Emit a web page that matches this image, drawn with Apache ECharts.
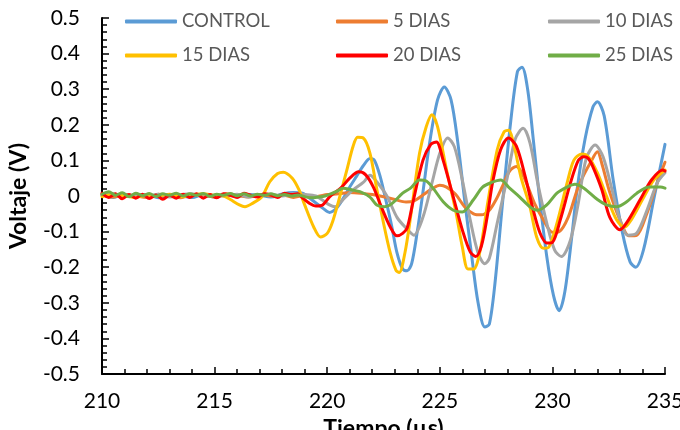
<!DOCTYPE html>
<html>
<head>
<meta charset="utf-8">
<script src="https://cdn.jsdelivr.net/npm/echarts@6/dist/echarts.min.js"></script>
<style>
html,body{margin:0;padding:0;background:#fff;}
#chart{width:680px;height:430px;}
</style>
</head>
<body>
<div id="chart"></div>
<script>
// Series names
const seriesNames = ['CONTROL', '5 DIAS', '10 DIAS', '15 DIAS', '20 DIAS', '25 DIAS'];

// Tick labels / axis ranges
const xTicks = [210, 215, 220, 225, 230, 235];
const yTicks = [-0.5, -0.4, -0.3, -0.2, -0.1, 0, 0.1, 0.2, 0.3, 0.4, 0.5];

// [tiempo (µs), voltaje (V)]
const control = [[210,0.003],[210.5,-0.004],[211,0.005],[211.5,-0.002],[212,0.004],[212.5,-0.005],[213,0.003],[213.5,0.000],[214,-0.004],[214.5,0.004],[215,-0.003],[215.5,0.003],[216,-0.002],[216.5,0.004],[217,0.002],[217.5,-0.003],[218,0.006],[218.5,0.010],[218.9,0.008],[219.3,-0.010],[219.8,-0.034],[220.1,-0.046],[220.4,-0.035],[220.7,-0.008],[221.0,0.025],[221.3,0.055],[221.6,0.085],[221.9,0.105],[222.1,0.10],[222.35,0.055],[222.6,-0.01],[222.85,-0.08],[223.1,-0.16],[223.35,-0.205],[223.55,-0.21],[223.75,-0.19],[224.0,-0.10],[224.25,0.01],[224.55,0.15],[224.9,0.27],[225.2,0.306],[225.5,0.27],[225.8,0.15],[226.1,-0.01],[226.4,-0.16],[226.7,-0.30],[227.0,-0.368],[227.2,-0.36],[227.45,-0.245],[227.8,-0.01],[228.15,0.21],[228.45,0.35],[228.65,0.362],[228.9,0.30],[229.15,0.16],[229.4,0.01],[229.75,-0.17],[230.05,-0.28],[230.3,-0.322],[230.55,-0.27],[230.85,-0.12],[231.1,0.02],[231.45,0.16],[231.8,0.25],[232.0,0.265],[232.3,0.225],[232.7,0.045],[233.1,-0.10],[233.45,-0.185],[233.7,-0.20],[234.05,-0.15],[234.5,-0.01],[235,0.145]];

const dias5 = [[210,0.005],[210.5,-0.003],[211,0.004],[211.5,0.0],[212,-0.004],[212.5,0.005],[213,0.001],[213.5,-0.005],[214,0.004],[214.5,0.002],[215,-0.003],[215.5,0.006],[216,0.002],[216.5,-0.003],[217,0.004],[217.5,0.000],[218,0.003],[218.5,-0.004],[219,0.002],[219.5,-0.002],[220,0.004],[220.5,0.006],[221,0.010],[221.5,0.008],[222,0.004],[222.5,-0.002],[223,-0.010],[223.5,-0.017],[223.9,-0.012],[224.3,0.005],[224.7,0.022],[225.0,0.03],[225.3,0.025],[225.7,0.005],[226.1,-0.03],[226.5,-0.05],[226.85,-0.053],[227.2,-0.04],[227.5,-0.01],[227.8,0.03],[228.1,0.07],[228.4,0.083],[228.6,0.07],[228.85,0.036],[229.2,-0.02],[229.6,-0.067],[230.0,-0.102],[230.3,-0.10],[230.7,-0.06],[231.1,0.017],[231.4,0.06],[231.7,0.095],[232.0,0.124],[232.2,0.09],[232.55,0.01],[233.0,-0.067],[233.4,-0.112],[233.75,-0.11],[234.2,-0.048],[234.65,0.036],[235,0.095]];

const dias10 = [[210,0.002],[210.5,0.006],[211,-0.002],[211.5,0.004],[212,0.000],[212.5,0.005],[213,-0.003],[213.5,0.003],[214,0.006],[214.5,-0.002],[215,0.003],[215.5,0.000],[216,0.005],[216.5,-0.003],[217,0.002],[217.5,0.005],[218,0.000],[218.5,0.006],[219,0.004],[219.5,0.000],[219.8,-0.012],[220.1,-0.025],[220.35,-0.03],[220.7,-0.01],[221.15,0.017],[221.6,0.038],[221.9,0.058],[222.2,0.04],[222.65,0.0],[223.1,-0.06],[223.5,-0.09],[223.85,-0.11],[224.25,-0.06],[224.65,0.036],[225.0,0.12],[225.35,0.163],[225.65,0.138],[226.0,0.045],[226.35,-0.067],[226.7,-0.16],[227.0,-0.19],[227.2,-0.175],[227.55,-0.076],[228.0,0.053],[228.35,0.16],[228.7,0.19],[229.0,0.15],[229.35,0.036],[229.75,-0.076],[230.1,-0.152],[230.4,-0.17],[230.8,-0.124],[231.15,-0.02],[231.5,0.105],[231.9,0.143],[232.25,0.11],[232.65,0.017],[233.0,-0.067],[233.35,-0.11],[233.75,-0.104],[234.2,-0.04],[234.65,0.036],[235,0.065]];

const dias15 = [[210,-0.002],[210.5,0.004],[211,0.001],[211.5,-0.004],[212,0.003],[212.5,0.000],[213,0.005],[213.5,-0.002],[214,0.003],[214.5,0.006],[215,0.002],[215.4,0.000],[215.7,-0.010],[216.1,-0.025],[216.35,-0.03],[216.7,-0.02],[217.1,-0.002],[217.45,0.04],[217.8,0.063],[218.05,0.067],[218.45,0.05],[218.75,0.017],[219.0,-0.025],[219.4,-0.087],[219.7,-0.115],[220.0,-0.105],[220.25,-0.07],[220.6,0.008],[220.9,0.08],[221.15,0.14],[221.35,0.165],[221.6,0.163],[221.9,0.12],[222.2,0.02],[222.5,-0.076],[222.8,-0.16],[223.05,-0.208],[223.2,-0.215],[223.45,-0.16],[223.7,-0.06],[224.1,0.12],[224.4,0.195],[224.65,0.228],[224.9,0.195],[225.3,0.073],[225.7,-0.04],[226.0,-0.143],[226.25,-0.205],[226.5,-0.205],[226.8,-0.15],[227.1,-0.03],[227.55,0.13],[227.85,0.18],[228.05,0.185],[228.3,0.14],[228.6,0.054],[229.0,-0.03],[229.3,-0.115],[229.6,-0.147],[229.85,-0.143],[230.2,-0.077],[230.65,0.036],[230.95,0.1],[231.3,0.118],[231.6,0.11],[232.0,0.065],[232.4,0.0],[232.85,-0.067],[233.2,-0.088],[233.5,-0.067],[234.0,-0.01],[234.5,0.045],[235,0.073]];

const dias20 = [[210,0.008],[210.3,-0.004],[210.6,0.006],[210.9,-0.008],[211.2,0.004],[211.5,-0.006],[211.8,0.005],[212.1,-0.007],[212.4,0.003],[212.7,-0.009],[213,0.002],[213.3,-0.006],[213.6,0.005],[213.9,-0.004],[214.2,0.006],[214.5,-0.006],[214.8,0.004],[215.1,-0.005],[215.4,0.006],[215.7,0.002],[216,-0.004],[216.3,0.008],[216.6,0.002],[216.9,-0.003],[217.2,0.006],[217.5,0.003],[217.8,-0.004],[218.1,0.008],[218.4,0.004],[218.7,0.006],[218.9,-0.005],[219.2,-0.02],[219.5,-0.028],[219.8,-0.025],[220.1,-0.003],[220.3,0.008],[220.6,0.022],[221.0,0.05],[221.4,0.068],[221.7,0.06],[222.05,0.025],[222.4,-0.03],[222.8,-0.087],[223.1,-0.112],[223.35,-0.105],[223.55,-0.09],[223.8,-0.02],[224.25,0.1],[224.6,0.145],[224.85,0.152],[225.15,0.1],[225.6,-0.003],[226.0,-0.095],[226.35,-0.157],[226.6,-0.17],[226.85,-0.14],[227.1,-0.06],[227.35,0.04],[227.7,0.13],[228.05,0.163],[228.4,0.14],[228.8,0.053],[229.15,-0.04],[229.45,-0.104],[229.75,-0.132],[230.0,-0.13],[230.35,-0.067],[230.8,0.036],[231.15,0.1],[231.4,0.11],[231.6,0.105],[231.8,0.082],[232.2,0.017],[232.55,-0.06],[233.0,-0.095],[233.3,-0.075],[233.9,-0.01],[234.4,0.045],[234.9,0.073],[235,0.07]];

const dias25 = [[210,0.005],[210.3,0.012],[210.6,0.002],[210.9,0.009],[211.2,-0.002],[211.5,0.008],[211.8,0.001],[212.1,0.007],[212.4,-0.001],[212.7,0.006],[213,0.002],[213.3,0.008],[213.6,0.000],[213.9,0.006],[214.2,0.002],[214.5,0.007],[214.8,-0.001],[215.1,0.005],[215.4,0.002],[215.7,0.007],[216,0.001],[216.3,0.006],[216.6,0.000],[216.9,0.005],[217.2,0.002],[217.5,0.006],[217.8,0.001],[218.1,0.004],[218.4,0.000],[218.7,0.003],[219.0,-0.002],[219.3,-0.005],[219.6,-0.003],[219.9,0.000],[220.15,0.006],[220.4,0.012],[220.7,0.022],[221.1,0.017],[221.45,0.012],[221.9,-0.003],[222.2,-0.025],[222.55,-0.03],[222.9,-0.02],[223.35,0.008],[223.7,0.022],[224.1,0.045],[224.4,0.042],[224.7,0.022],[225.15,-0.016],[225.6,-0.04],[226.0,-0.045],[226.5,-0.01],[226.9,0.025],[227.3,0.038],[227.7,0.045],[228.1,0.022],[228.55,-0.003],[229.0,-0.03],[229.35,-0.04],[229.75,-0.025],[230.2,0.008],[230.65,0.025],[231.0,0.033],[231.4,0.022],[232.0,-0.01],[232.4,-0.025],[232.85,-0.03],[233.3,-0.016],[233.75,0.008],[234.3,0.025],[234.8,0.025],[235,0.022]];

const seriesData = [control, dias5, dias10, dias15, dias20, dias25];
const colors = ['#5B9BD5', '#ED7D31', '#A5A5A5', '#FFC000', '#FF0000', '#70AD47'];

const FONT = 'Lato, "Open Sans", sans-serif';
const legendPos = [
  {left: 120, top: 7}, {left: 331, top: 7}, {left: 543, top: 7},
  {left: 120, top: 41}, {left: 331, top: 41}, {left: 543, top: 41}
];

const chart = echarts.init(document.getElementById('chart'), null, {renderer: 'canvas'});
chart.setOption({
  animation: false,
  backgroundColor: '#ffffff',
  color: colors,
  grid: {left: 102, right: 15, top: 18, bottom: 56, containLabel: false, outerBoundsMode: 'none'},
  legend: seriesNames.map((n, i) => ({
    data: [n],
    left: legendPos[i].left,
    top: legendPos[i].top,
    icon: 'roundRect',
    itemWidth: 52,
    itemHeight: 4,
    itemGap: 0,
    textStyle: {fontFamily: FONT, fontSize: 18.5, color: '#595959'}
  })),
  xAxis: {
    type: 'value',
    min: xTicks[0],
    max: xTicks[xTicks.length - 1],
    interval: 5,
    name: 'Tiempo (µs)',
    nameLocation: 'middle',
    nameGap: 42,
    nameTextStyle: {fontFamily: FONT, fontSize: 23, fontWeight: 'bold', color: '#000'},
    axisLine: {show: true, onZero: false, lineStyle: {color: '#000', width: 2}},
    axisTick: {show: true, inside: true, length: 7, lineStyle: {color: '#000', width: 1.5}},
    minorTick: {show: true, splitNumber: 5, length: 5, lineStyle: {color: '#000', width: 1.5}},
    axisLabel: {fontFamily: FONT, fontSize: 21, color: '#000', margin: 17},
    splitLine: {show: false}
  },
  yAxis: {
    type: 'value',
    min: yTicks[0],
    max: yTicks[yTicks.length - 1],
    interval: 0.1,
    name: 'Voltaje (V)',
    nameLocation: 'middle',
    nameGap: 72,
    nameTextStyle: {fontFamily: FONT, fontSize: 23, fontWeight: 'bold', color: '#000'},
    axisLine: {show: true, onZero: false, lineStyle: {color: '#000', width: 2}},
    axisTick: {show: true, inside: true, length: 7, lineStyle: {color: '#000', width: 1.5}},
    minorTick: {show: true, splitNumber: 5, length: 5, lineStyle: {color: '#000', width: 1.5}},
    axisLabel: {
      fontFamily: FONT, fontSize: 21, color: '#000', margin: 22,
      formatter: v => Math.abs(v) < 1e-9 ? '0' : v.toFixed(1)
    },
    splitLine: {show: false}
  },
  series: seriesNames.map((n, i) => ({
    name: n,
    type: 'line',
    data: seriesData[i],
    symbol: 'none',
    smooth: 0.3,
    clip: true,
    lineStyle: {width: 3, color: colors[i], cap: 'round', join: 'round'},
    itemStyle: {color: colors[i]}
  }))
});
</script>
</body>
</html>
